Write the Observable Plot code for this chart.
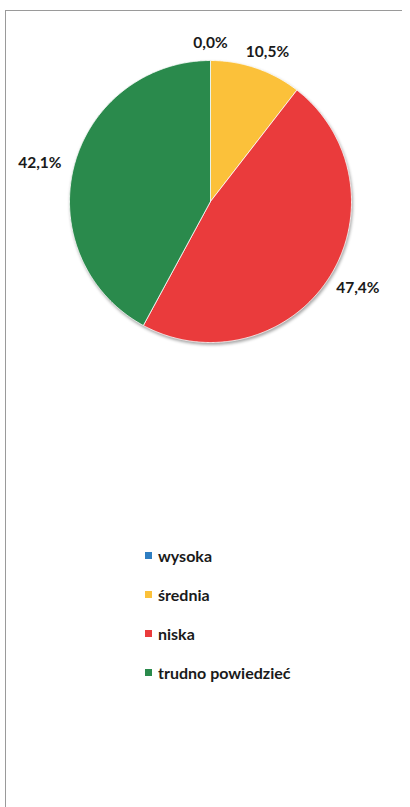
<!DOCTYPE html>
<html>
<head>
<meta charset="utf-8">
<script src="https://cdn.jsdelivr.net/npm/d3@7"></script>
<script src="https://cdn.jsdelivr.net/npm/@observablehq/plot@0.6"></script>
<style>
  html, body { margin: 0; padding: 0; background: #fff; }
  #wrap { position: relative; width: 410px; height: 807px; overflow: hidden; font-family: Lato, "Open Sans", sans-serif; }
  #frameTop { position: absolute; left: 6px; top: 10px; width: 396px; height: 0; border-top: 1px solid #9a9a9a; }
  #frameLeft { position: absolute; left: 5px; top: 10px; width: 0; height: 797px; border-left: 1px solid #9a9a9a; }
  #chart { position: absolute; left: 0; top: 0; }
  .pie { filter: drop-shadow(1px 2px 1.5px rgba(0,0,0,0.35)); }
  #legend { position: absolute; left: 145px; top: 545px; display: flex; flex-direction: column; gap: 19px; }
  .item { display: flex; align-items: center; height: 20px; font-weight: 700; font-size: 16px; color: #1a1a1a; }
  .sw { width: 7px; height: 7px; margin-right: 6px; }
</style>
</head>
<body>
<div id="wrap">
  <div id="chart"></div>
  <div id="frameTop"></div>
  <div id="frameLeft"></div>
  <div id="legend"></div>
</div>
<script>
const categories = ["wysoka", "średnia", "niska", "trudno powiedzieć"];
const values = [0.0, 10.5, 47.4, 42.1];
const labels = ["0,0%", "10,5%", "47,4%", "42,1%"];
const colors = ["#2E7EC2", "#FBC13A", "#EA3B3C", "#2A8A4C"];

const data = categories.map((c, i) => ({cat: c, value: values[i], label: labels[i]}));
const arcs = d3.pie().sort(null).value(d => d.value).startAngle(0).endAngle(2 * Math.PI)(data);

// polygon points for each slice (angle clockwise from 12 o'clock, y up)
const pts = [];
for (const a of arcs) {
  if (a.endAngle - a.startAngle <= 0) continue;
  pts.push({cat: a.data.cat, x: 0, y: 0});
  const n = Math.max(2, Math.ceil((a.endAngle - a.startAngle) / (Math.PI / 360)));
  for (let k = 0; k <= n; k++) {
    const t = a.startAngle + (a.endAngle - a.startAngle) * k / n;
    pts.push({cat: a.data.cat, x: Math.sin(t), y: Math.cos(t)});
  }
  pts.push({cat: a.data.cat, x: 0, y: 0});
}

const R = 141; // pixel radius
const lab = arcs.map(a => {
  const m = (a.startAngle + a.endAngle) / 2;
  const s = Math.sin(m), c = Math.cos(m);
  return {
    label: a.data.label,
    x: s * (1 + 35 / R),
    y: c * (1 + 17 / R)
  };
});

const chart = Plot.plot({
  width: 410,
  height: 400,
  marginLeft: 69,
  marginRight: 59,
  marginTop: 60,
  marginBottom: 58,
  x: {domain: [-1, 1], axis: null},
  y: {domain: [-1, 1], axis: null},
  color: {domain: categories, range: colors},
  style: {fontFamily: "Lato, 'Open Sans', sans-serif", overflow: "visible"},
  marks: [
    Plot.line(pts, {x: "x", y: "y", z: "cat", fill: "cat", stroke: "white", strokeWidth: 0.8, className: "pie"}),
    Plot.text(lab, {x: "x", y: "y", text: "label", fontSize: 15.5, fontWeight: 700, fill: "#1a1a1a", textAnchor: "middle", lineAnchor: "middle"})
  ]
});
document.getElementById("chart").appendChild(chart);

const legend = document.getElementById("legend");
categories.forEach((c, i) => {
  const it = document.createElement("div");
  it.className = "item";
  const sw = document.createElement("span");
  sw.className = "sw";
  sw.style.background = colors[i];
  const tx = document.createElement("span");
  tx.textContent = c;
  it.appendChild(sw);
  it.appendChild(tx);
  legend.appendChild(it);
});
</script>
</body>
</html>
